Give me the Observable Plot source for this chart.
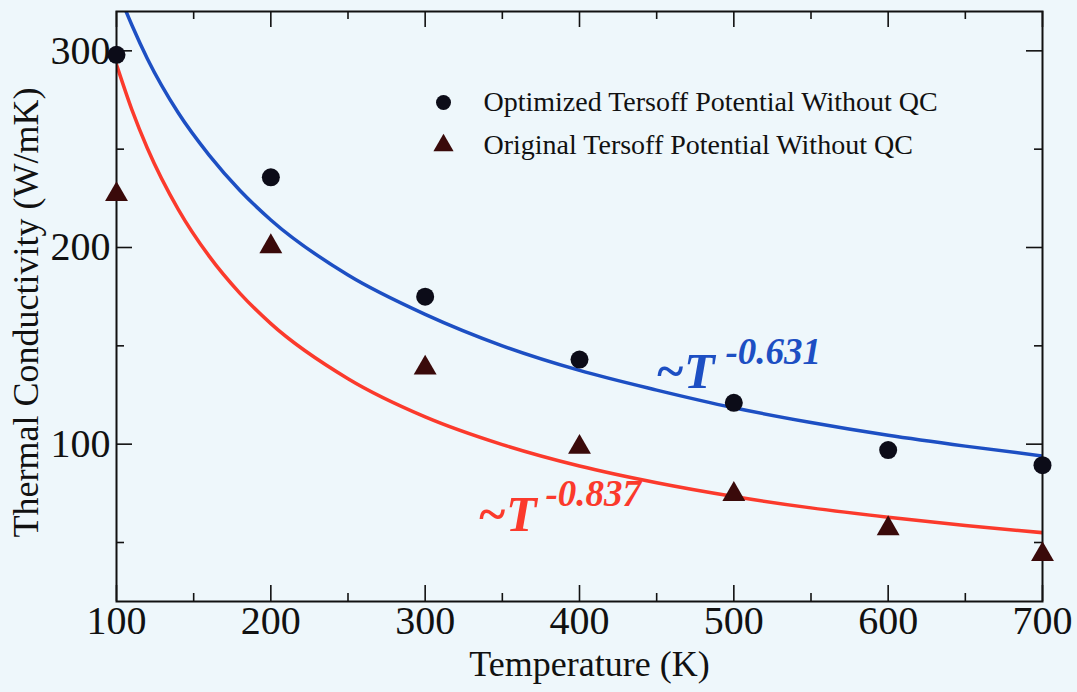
<!DOCTYPE html>
<html><head><meta charset="utf-8">
<script src="https://cdn.jsdelivr.net/npm/d3@7"></script>
<script src="https://cdn.jsdelivr.net/npm/@observablehq/plot@0.6"></script>
<style>
html,body{margin:0;padding:0;background:#eef7fb;}
#chart svg{display:block;}
</style></head><body><div id="chart"></div>
<script>
// Measured data points
const temperatures = [100, 200, 300, 400, 500, 600, 700];
const optimized = [298, 235.7, 175, 143, 121, 97, 89.3];
const original = [227, 200.5, 138.8, 98.5, 74.5, 57.1, 43.9];
// Fitted curves
const fitT = [100, 110, 120, 140, 160, 180, 200, 250, 300, 350, 400, 450, 500, 550, 600, 650, 700];
const fitOptimized = [332, 313, 296, 268.5, 247, 229, 214, 186, 166, 150, 137.5, 127.5, 118.5, 111, 104.5, 99, 94];
const fitOriginal = [293, 270, 250.5, 219.4, 195.6, 176.7, 161.3, 133.3, 113.9, 99.8, 88.9, 80.4, 73.4, 67.6, 62.8, 58.6, 55];
// Ticks
const xMajor = [100, 200, 300, 400, 500, 600, 700];
const xMinor = [150, 250, 350, 450, 550, 650];
const yMajor = [100, 200, 300];
const yMinor = [50, 150, 250];
const seriesNames = ["Optimized Tersoff Potential Without QC", "Original Tersoff Potential Without QC"];
const fitLabels = ["~T", "-0.631", "~T", "-0.837"];

const points = temperatures.map((t, i) => ({t, opt: optimized[i], orig: original[i]}));
const fits = fitT.map((t, i) => ({t, opt: fitOptimized[i], orig: fitOriginal[i]}));

const W = 1077, H = 692, mL = 116, mR = 35, mT = 11, mB = 91;
const fw = W - mL - mR, fh = H - mT - mB;
const blue = "#1d4fc3", red = "#fb3a2c", ink = "#111";
const serif = "'Liberation Serif','Times New Roman',serif";

const chart = Plot.plot({
  width: W, height: H,
  marginLeft: mL, marginRight: mR, marginTop: mT, marginBottom: mB,
  style: {background: "#eef7fb", fontFamily: serif, color: ink, overflow: "visible"},
  x: {domain: [100, 700], axis: null},
  y: {domain: [20, 320], axis: null},
  marks: [
    Plot.line(fits, {x: "t", y: "opt", stroke: blue, strokeWidth: 3.5, curve: "monotone-x", clip: true}),
    Plot.line(fits, {x: "t", y: "orig", stroke: red, strokeWidth: 3.5, curve: "monotone-x", clip: true}),
    Plot.frame({stroke: ink, strokeWidth: 2}),
    // inward ticks
    Plot.ruleX(xMajor, {x: d => d, insetTop: fh - 16, stroke: ink, strokeWidth: 1.6}),
    Plot.ruleX(xMajor, {x: d => d, insetBottom: fh - 16, stroke: ink, strokeWidth: 1.6}),
    Plot.ruleX(xMinor, {x: d => d, insetTop: fh - 8, stroke: ink, strokeWidth: 1.6}),
    Plot.ruleX(xMinor, {x: d => d, insetBottom: fh - 8, stroke: ink, strokeWidth: 1.6}),
    Plot.ruleY(yMajor, {y: d => d, insetRight: fw - 16, stroke: ink, strokeWidth: 1.6}),
    Plot.ruleY(yMajor, {y: d => d, insetLeft: fw - 16, stroke: ink, strokeWidth: 1.6}),
    Plot.ruleY(yMinor, {y: d => d, insetRight: fw - 8, stroke: ink, strokeWidth: 1.6}),
    Plot.ruleY(yMinor, {y: d => d, insetLeft: fw - 8, stroke: ink, strokeWidth: 1.6}),
    Plot.axisX({ticks: xMajor, tickSize: 0, tickPadding: 4, fontSize: 40, label: null, tickFormat: d => String(d)}),
    Plot.axisY({ticks: yMajor, tickSize: 0, tickPadding: 6, fontSize: 40, label: null, tickFormat: d => String(d)}),
    // axis titles
    Plot.text(["Temperature (K)"], {frameAnchor: "bottom", dx: 10, dy: 74, lineAnchor: "bottom", fontSize: 36, fill: ink, text: d => d}),
    Plot.text(["Thermal Conductivity (W/mK)"], {frameAnchor: "left", textAnchor: "middle", lineAnchor: "middle", rotate: -90, dx: -90, dy: 6, fontSize: 36, fill: ink, text: d => d}),
    // data
    Plot.dot(points, {x: "t", y: "opt", r: 9, symbol: "circle", fill: "#0c0c18", clip: false}),
    Plot.dot(points, {x: "t", y: "orig", r: 8.5, symbol: "triangle", fill: "#3a0a0a", clip: false}),
    // legend
    Plot.dot([seriesNames[0]], {frameAnchor: "top-left", dx: 443 - mL, dy: 102 - mT, r: 7.5, symbol: "circle", fill: "#0c0c18"}),
    Plot.dot([seriesNames[1]], {frameAnchor: "top-left", dx: 443 - mL, dy: 145 - mT, r: 7.5, symbol: "triangle", fill: "#3a0a0a"}),
    Plot.text([seriesNames[0]], {frameAnchor: "top-left", dx: 483 - mL, dy: 102 - mT, textAnchor: "start", lineAnchor: "middle", fontSize: 28, fill: ink, text: d => d}),
    Plot.text([seriesNames[1]], {frameAnchor: "top-left", dx: 483 - mL, dy: 145 - mT, textAnchor: "start", lineAnchor: "middle", fontSize: 28, fill: ink, text: d => d}),
    // fit annotations
    Plot.text([fitLabels[0]], {x: 449.2, y: 128.8, textAnchor: "start", lineAnchor: "bottom", fontSize: 50, fontWeight: "bold", fontStyle: "italic", fill: blue, text: d => d}),
    Plot.text([fitLabels[1]], {x: 494.6, y: 141, textAnchor: "start", lineAnchor: "bottom", fontSize: 37, fontWeight: "bold", fontStyle: "italic", fill: blue, text: d => d}),
    Plot.text([fitLabels[2]], {x: 333.9, y: 56.1, textAnchor: "start", lineAnchor: "bottom", fontSize: 50, fontWeight: "bold", fontStyle: "italic", fill: red, text: d => d}),
    Plot.text([fitLabels[3]], {x: 378, y: 68.8, textAnchor: "start", lineAnchor: "bottom", fontSize: 37, fontWeight: "bold", fontStyle: "italic", fill: red, text: d => d})
  ]
});
document.getElementById("chart").appendChild(chart);
</script>
</body></html>
